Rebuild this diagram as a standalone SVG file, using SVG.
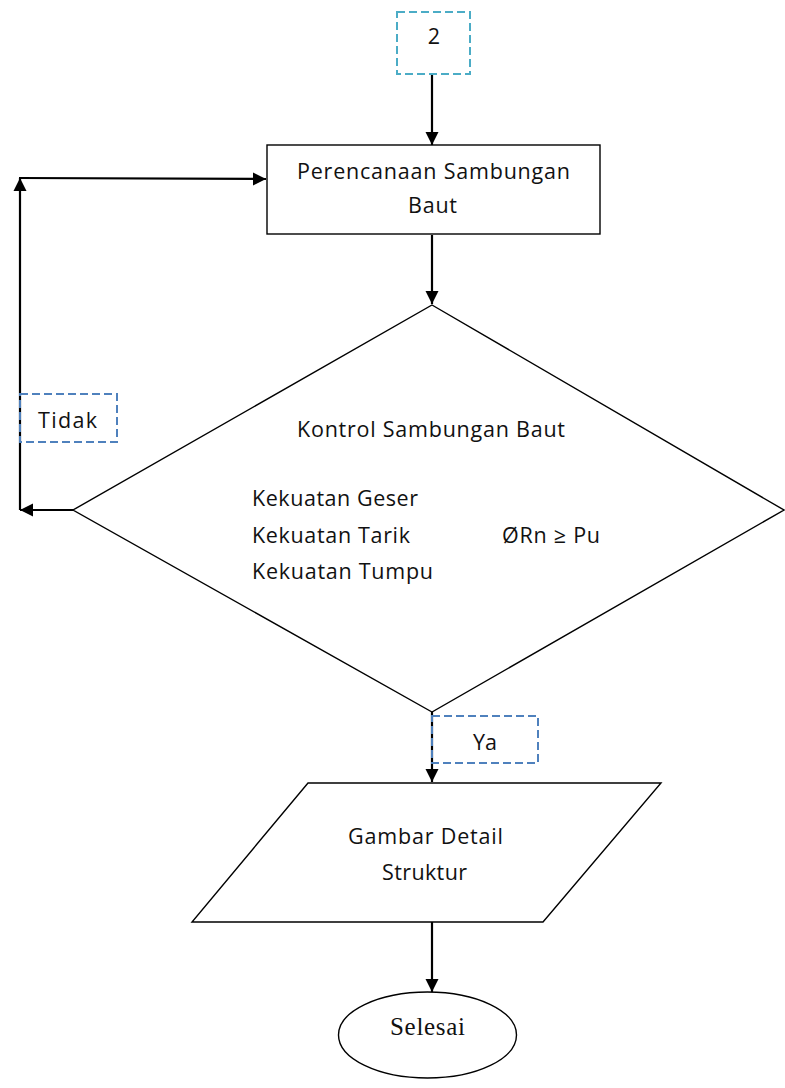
<svg xmlns="http://www.w3.org/2000/svg" width="785" height="1088" viewBox="0 0 785 1088">
  <defs>
    <marker id="arrow" markerUnits="userSpaceOnUse" markerWidth="14" markerHeight="14" viewBox="0 0 14 14" refX="13" refY="7" orient="auto">
      <path d="M0,0.5 L13,7 L0,13.5 Z" fill="#000"/>
    </marker>
    <style>
      .shape { fill: #fff; stroke: #000; stroke-width: 1.4; }
      .conn { fill: none; stroke: #000; stroke-width: 2.2; }
      .tag-teal { fill: none; stroke: #4BACC6; stroke-width: 2; stroke-dasharray: 8 4; }
      .tag-blue { fill: none; stroke: #4F81BD; stroke-width: 2; stroke-dasharray: 8 4; }
      .t { font-family: "Open Sans", "Noto Sans", "Liberation Sans", sans-serif; font-size: 21.5px; fill: #111; }
      .serif { font-family: "Liberation Serif", "Times New Roman", serif; font-size: 25px; fill: #111; }
    </style>
  </defs>

  <!-- connectors -->
  <g id="connectors">
    <line class="conn" x1="432" y1="74" x2="432" y2="145" marker-end="url(#arrow)"/>
    <line class="conn" x1="432" y1="235" x2="432" y2="304" marker-end="url(#arrow)"/>
    <line class="conn" x1="73" y1="510" x2="20" y2="510" marker-end="url(#arrow)"/>
    <line class="conn" x1="20" y1="510" x2="20" y2="178" marker-end="url(#arrow)"/>
    <line class="conn" x1="19" y1="178" x2="266" y2="179" marker-end="url(#arrow)"/>
    <line class="conn" x1="432" y1="712" x2="432" y2="782" marker-end="url(#arrow)"/>
    <line class="conn" x1="432" y1="922" x2="432" y2="992" marker-end="url(#arrow)"/>
  </g>

  <!-- connector reference "2" -->
  <g id="node-ref2">
    <rect class="tag-teal" x="397" y="12" width="73" height="62"/>
    <text class="t" x="434" y="44" text-anchor="middle">2</text>
  </g>

  <!-- process: bolt connection design -->
  <g id="node-perencanaan">
    <rect class="shape" x="267" y="145" width="333" height="89"/>
    <text class="t" x="297" y="179" textLength="273">Perencanaan Sambungan</text>
    <text class="t" x="408" y="213" textLength="49">Baut</text>
  </g>

  <!-- decision: bolt connection check -->
  <g id="node-kontrol">
    <polygon class="shape" points="432,305 784,510 432,712 73,510"/>
    <text class="t" x="297" y="437" textLength="268">Kontrol Sambungan Baut</text>
    <text class="t" x="252" y="506" textLength="166">Kekuatan Geser</text>
    <text class="t" x="252" y="543" textLength="158">Kekuatan Tarik</text>
    <text class="t" x="502" y="543" textLength="98">ØRn ≥ Pu</text>
    <text class="t" x="252" y="579" textLength="181">Kekuatan Tumpu</text>
  </g>

  <!-- branch labels -->
  <g id="label-tidak">
    <rect class="tag-blue" x="20" y="394" width="97" height="48"/>
    <text class="t" x="38" y="428" textLength="59">Tidak</text>
  </g>
  <g id="label-ya">
    <rect class="tag-blue" x="432" y="716" width="106" height="47"/>
    <text class="t" x="473" y="750" textLength="24">Ya</text>
  </g>

  <!-- output: detail drawings -->
  <g id="node-gambar">
    <polygon class="shape" points="308,783 661,783 543,922 192,922"/>
    <text class="t" x="348" y="844" textLength="155">Gambar Detail</text>
    <text class="t" x="382" y="880" textLength="85">Struktur</text>
  </g>

  <!-- terminator -->
  <g id="node-selesai">
    <ellipse class="shape" cx="427.5" cy="1035" rx="89" ry="43"/>
    <text class="serif" x="390" y="1035" textLength="75">Selesai</text>
  </g>
</svg>
